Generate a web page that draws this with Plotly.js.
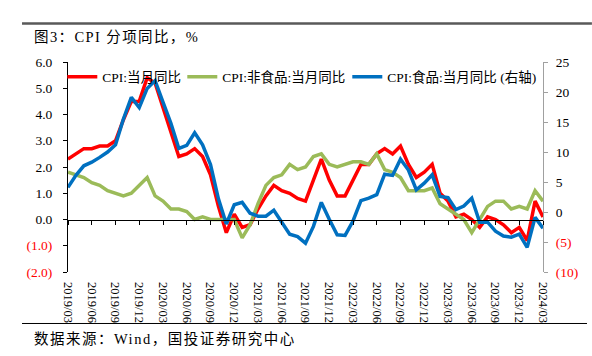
<!DOCTYPE html>
<html><head><meta charset="utf-8">
<script src="https://cdn.plot.ly/plotly-3.0.1.min.js"></script>
<style>html,body{margin:0;padding:0;background:#fff}#chart{width:592px;height:356px}</style>
</head><body><div id="chart"></div>
<script>
const months = ["2019/03","2019/04","2019/05","2019/06","2019/07","2019/08","2019/09","2019/10","2019/11","2019/12",
"2020/01","2020/02","2020/03","2020/04","2020/05","2020/06","2020/07","2020/08","2020/09","2020/10","2020/11","2020/12",
"2021/01","2021/02","2021/03","2021/04","2021/05","2021/06","2021/07","2021/08","2021/09","2021/10","2021/11","2021/12",
"2022/01","2022/02","2022/03","2022/04","2022/05","2022/06","2022/07","2022/08","2022/09","2022/10","2022/11","2022/12",
"2023/01","2023/02","2023/03","2023/04","2023/05","2023/06","2023/07","2023/08","2023/09","2023/10","2023/11","2023/12",
"2024/01","2024/02","2024/03"];
const cpiAll = [2.3,2.5,2.7,2.7,2.8,2.8,3.0,3.8,4.5,4.5,
5.4,5.2,4.3,3.3,2.4,2.5,2.7,2.4,1.7,0.5,-0.5,0.2,
-0.3,-0.2,0.4,0.9,1.3,1.1,1.0,0.8,0.7,1.5,2.3,1.5,
0.9,0.9,1.5,2.1,2.1,2.5,2.7,2.5,2.8,2.1,1.6,1.8,
2.1,1.0,0.7,0.1,0.2,0.0,-0.3,0.1,0.0,-0.2,-0.5,-0.3,
-0.8,0.7,0.1];
const cpiNonFood = [1.8,1.7,1.6,1.4,1.3,1.1,1.0,0.9,1.0,1.3,
1.6,0.9,0.7,0.4,0.4,0.3,0.0,0.1,0.0,0.0,0.0,0.0,
-0.7,-0.2,0.6,1.3,1.6,1.7,2.1,1.9,2.0,2.4,2.5,2.1,
2.0,2.1,2.2,2.2,2.1,2.5,1.9,1.8,1.6,1.1,1.1,1.1,
1.2,0.6,0.4,0.2,0.0,-0.5,0.0,0.5,0.7,0.7,0.4,0.5,
0.4,1.1,0.7];
const cpiFood = [4.1,6.1,7.7,8.3,9.1,10.0,11.2,15.5,19.1,17.4,
20.6,21.9,18.3,14.8,10.6,11.1,13.2,11.2,7.9,2.2,-2.0,1.2,
1.6,-0.2,-0.7,-0.7,0.3,-1.7,-3.7,-4.1,-5.2,-2.4,1.6,-1.2,
-3.8,-3.9,-1.5,1.9,2.3,2.9,6.3,6.1,8.8,7.0,3.7,4.8,
6.2,2.6,2.4,0.4,1.0,2.3,-1.7,-1.7,-3.2,-4.0,-4.2,-3.7,
-5.9,-0.9,-2.7];
const tickMonths = ["2019/03","2019/06","2019/09","2019/12","2020/03","2020/06","2020/09","2020/12",
"2021/03","2021/06","2021/09","2021/12","2022/03","2022/06","2022/09","2022/12",
"2023/03","2023/06","2023/09","2023/12","2024/03"];
const leftTickVals = [-2,-1,0,1,2,3,4,5,6];
const leftTickText = ["(2.0)","(1.0)","0.0","1.0","2.0","3.0","4.0","5.0","6.0"];
const rightTickVals = [-10,-5,0,5,10,15,20,25];
const rightTickText = ["(10)","(5)","0","5","10","15","20","25"];
const seriesNames = ["CPI:当月同比","CPI:非食品:当月同比","CPI:食品:当月同比 (右轴)"];
const seriesColors = ["#FF0000","#9BBB59","#0070C0"];
const titleText = "图3：CPI 分项同比，%";
const sourceText = "数据来源：Wind，国投证券研究中心";

const red = t => t.startsWith("(") ? '<span style="color:#FF0000">' + t + '</span>' : t;
const spaced = (t, px) => '<span style="letter-spacing:' + px + 'px">' + t + '</span>';
const FONT = '"Liberation Serif", "Times New Roman", "Noto Sans CJK SC", serif';

const traces = [
  {x: months, y: cpiAll, name: seriesNames[0], type: 'scatter', mode: 'lines', xaxis: 'x', yaxis: 'y',
   line: {color: seriesColors[0], width: 3.5}, hoverinfo: 'skip', legendwidth: 75},
  {x: months, y: cpiNonFood, name: seriesNames[1], type: 'scatter', mode: 'lines', xaxis: 'x', yaxis: 'y',
   line: {color: seriesColors[1], width: 3.5}, hoverinfo: 'skip', legendwidth: 120},
  {x: months, y: cpiFood, name: seriesNames[2], type: 'scatter', mode: 'lines', xaxis: 'x', yaxis: 'y2',
   line: {color: seriesColors[2], width: 3.5}, hoverinfo: 'skip'},
  {x: months, y: months.map(() => null), xaxis: 'x2', yaxis: 'y', type: 'scatter', mode: 'lines',
   showlegend: false, hoverinfo: 'skip'}
];

const layout = {
  width: 592, height: 356,
  margin: {l: 68, r: 49, t: 62, b: 84, autoexpand: false},
  paper_bgcolor: '#fff', plot_bgcolor: '#fff',
  font: {family: FONT, color: '#000', size: 13.5},
  showlegend: true,
  legend: {orientation: 'h', x: -0.012, xanchor: 'left', y: 1.003, yanchor: 'top',
           bgcolor: 'rgba(0,0,0,0)', font: {family: FONT, size: 13.5}, itemwidth: 30, traceorder: 'normal'},
  xaxis: {type: 'category', categoryarray: months, range: [0, 60], anchor: 'free', position: 0.25,
          showline: true, linecolor: '#000', linewidth: 1, ticks: 'outside', ticklen: 4, tickcolor: '#000',
          tickmode: 'array', tickvals: tickMonths, showticklabels: false, showgrid: false, zeroline: false, fixedrange: true},
  xaxis2: {type: 'category', categoryarray: months, range: [0, 60], overlaying: 'x', anchor: 'y', side: 'bottom',
           showline: false, ticks: 'outside', ticklen: 6.5, tickcolor: 'rgba(0,0,0,0)',
           tickmode: 'array', tickvals: tickMonths, ticktext: tickMonths, tickangle: 90,
           tickfont: {family: FONT, size: 12.5}, showgrid: false, zeroline: false, fixedrange: true},
  yaxis: {range: [-2, 6], tickmode: 'array', tickvals: leftTickVals, ticktext: leftTickText.map(red),
          showline: true, linecolor: '#000', linewidth: 1, ticks: 'outside', ticklen: 4, tickcolor: '#000',
          showgrid: false, zeroline: false, tickfont: {family: FONT, size: 13.5}, ticklabelstandoff: 8, fixedrange: true},
  yaxis2: {range: [-10, 25], overlaying: 'y', side: 'right', anchor: 'x', tickmode: 'array', tickvals: rightTickVals,
           ticktext: rightTickText.map(red), showline: true, linecolor: '#A0A0A0', linewidth: 1,
           ticks: 'outside', ticklen: 4, tickcolor: '#A0A0A0', showgrid: false, zeroline: false,
           tickfont: {family: FONT, size: 13.5}, ticklabelstandoff: 5, fixedrange: true},
  shapes: [
    {type: 'line', xref: 'paper', yref: 'paper', x0: -0.0968, x1: 1.103, y0: 1.1833, y1: 1.1833,
     line: {color: '#595959', width: 2.5}},
    {type: 'line', xref: 'paper', yref: 'paper', x0: -0.0968, x1: 1.0926, y0: -0.2452, y1: -0.2452,
     line: {color: '#000', width: 1}}
  ],
  annotations: [
    {text: spaced(titleText, 1.4), xref: 'paper', yref: 'paper', x: -0.0758, y: 1.119, xanchor: 'left', yanchor: 'middle',
     showarrow: false, font: {family: FONT, size: 14.5, color: '#000'}},
    {text: spaced(sourceText, 1.5), xref: 'paper', yref: 'paper', x: -0.0758, y: -0.319, xanchor: 'left', yanchor: 'middle',
     showarrow: false, font: {family: FONT, size: 14.5, color: '#000'}}
  ]
};

Plotly.newPlot('chart', traces, layout, {staticPlot: true, displayModeBar: false});
</script>
</body></html>
